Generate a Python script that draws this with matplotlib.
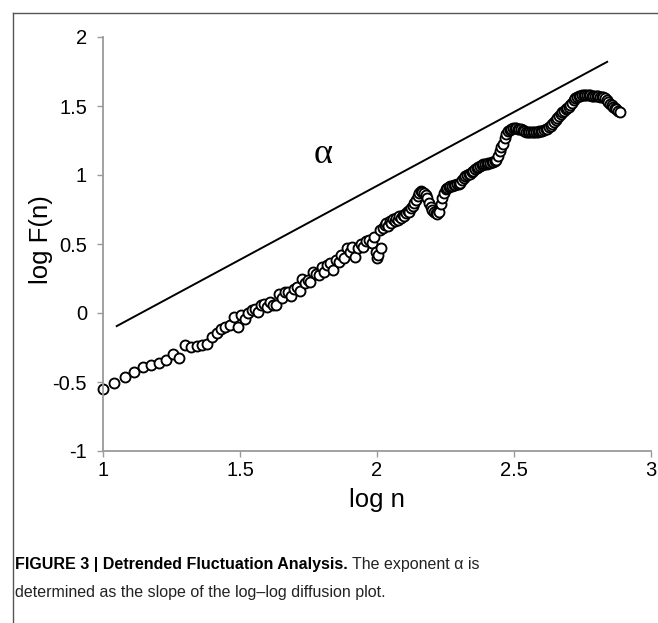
import matplotlib
matplotlib.use("Agg")
from matplotlib import pyplot as plt
from matplotlib.lines import Line2D

# values (log n, log F(n))
logn_low = [1.000, 1.041, 1.079, 1.114, 1.146, 1.176, 1.204, 1.230, 1.255, 1.279,
            1.301, 1.322, 1.342, 1.362, 1.380, 1.398, 1.415, 1.431, 1.447, 1.462,
            1.477, 1.491, 1.505]
logF_low = [-0.553, -0.504, -0.462, -0.430, -0.394, -0.377, -0.365, -0.340, -0.297, -0.328,
            -0.231, -0.248, -0.236, -0.231, -0.224, -0.175, -0.144, -0.119, -0.102, -0.090,
            -0.030, -0.102, -0.017]

logn_mid = [1.519, 1.531, 1.542, 1.553, 1.564, 1.575, 1.586, 1.597, 1.609, 1.620,
            1.631, 1.643, 1.654, 1.665, 1.676, 1.687, 1.698, 1.709, 1.720, 1.726,
            1.737, 1.748, 1.756, 1.766, 1.776, 1.787, 1.798, 1.808, 1.818, 1.829,
            1.840, 1.850, 1.860, 1.870, 1.880, 1.890, 1.900, 1.910, 1.920, 1.930,
            1.940, 1.950, 1.960, 1.970, 1.980, 1.990, 1.996, 2.000, 2.004]
logF_mid = [-0.040, 0.000, 0.020, 0.031, 0.010, 0.055, 0.068, 0.045, 0.080, 0.060,
            0.056, 0.140, 0.110, 0.150, 0.153, 0.120, 0.175, 0.190, 0.160, 0.250,
            0.215, 0.240, 0.226, 0.300, 0.280, 0.275, 0.330, 0.300, 0.348, 0.360,
            0.312, 0.385, 0.370, 0.420, 0.400, 0.469, 0.445, 0.480, 0.409, 0.469,
            0.500, 0.480, 0.520, 0.530, 0.510, 0.550, 0.445, 0.397, 0.420]

logn_high = [2.010, 2.016, 2.022, 2.028, 2.034, 2.040, 2.046, 2.052, 2.058, 2.064,
             2.070, 2.076, 2.082, 2.088, 2.094, 2.100, 2.106, 2.112, 2.118, 2.124,
             2.130, 2.136, 2.142, 2.148, 2.154, 2.160, 2.166, 2.172, 2.178, 2.184,
             2.190, 2.196, 2.202, 2.208, 2.214, 2.220, 2.226, 2.232, 2.238, 2.244,
             2.250, 2.256, 2.262, 2.268, 2.274, 2.280, 2.286, 2.292, 2.298, 2.304,
             2.310, 2.316, 2.322, 2.328, 2.334, 2.340, 2.346, 2.352, 2.358, 2.364,
             2.370, 2.376, 2.382, 2.388, 2.394, 2.400, 2.406, 2.412, 2.418, 2.424,
             2.430, 2.436, 2.442, 2.448, 2.454, 2.460, 2.466, 2.472, 2.478, 2.484,
             2.490, 2.496, 2.502, 2.508, 2.514, 2.520, 2.526, 2.532, 2.538, 2.544,
             2.550, 2.556, 2.562, 2.568, 2.574, 2.580, 2.586, 2.592, 2.598, 2.604,
             2.610, 2.616, 2.622, 2.628, 2.634, 2.640, 2.646, 2.652, 2.658, 2.664,
             2.670, 2.676, 2.682, 2.688, 2.694, 2.700, 2.706, 2.712, 2.718, 2.724,
             2.730, 2.736, 2.742, 2.748, 2.754, 2.760, 2.766, 2.772, 2.778, 2.784,
             2.790, 2.796, 2.802, 2.808, 2.814, 2.820, 2.826, 2.832, 2.838, 2.844,
             2.850, 2.856, 2.862, 2.868, 2.874, 2.880, 2.886]
logF_high = [0.600, 0.470, 0.615, 0.640, 0.650, 0.630, 0.664, 0.655, 0.680, 0.664,
             0.690, 0.675, 0.700, 0.688, 0.710, 0.700, 0.725, 0.740, 0.730, 0.760,
             0.775, 0.798, 0.820, 0.845, 0.870, 0.885, 0.880, 0.870, 0.855, 0.830,
             0.800, 0.770, 0.750, 0.735, 0.725, 0.715, 0.730, 0.790, 0.835, 0.870,
             0.895, 0.905, 0.915, 0.920, 0.918, 0.925, 0.930, 0.935, 0.932, 0.945,
             0.965, 0.980, 0.990, 1.000, 1.005, 1.010, 1.020, 1.030, 1.045, 1.050,
             1.060, 1.068, 1.075, 1.078, 1.080, 1.082, 1.085, 1.090, 1.092, 1.095,
             1.100, 1.110, 1.140, 1.175, 1.200, 1.225, 1.265, 1.300, 1.318, 1.328,
             1.334, 1.338, 1.340, 1.338, 1.336, 1.334, 1.330, 1.325, 1.320, 1.315,
             1.312, 1.310, 1.310, 1.312, 1.310, 1.312, 1.315, 1.318, 1.320, 1.322,
             1.325, 1.330, 1.336, 1.345, 1.355, 1.370, 1.385, 1.400, 1.410, 1.425,
             1.440, 1.455, 1.465, 1.475, 1.485, 1.495, 1.508, 1.525, 1.545, 1.560,
             1.568, 1.572, 1.575, 1.577, 1.578, 1.578, 1.577, 1.577, 1.577, 1.576,
             1.575, 1.573, 1.572, 1.570, 1.568, 1.566, 1.563, 1.556, 1.545, 1.530,
             1.516, 1.505, 1.495, 1.485, 1.475, 1.465, 1.455]

# reference slope line
slope_x = [1.05, 2.84]
slope_y = [-0.095, 1.82]

x_ticks = [1, 1.5, 2, 2.5, 3]
x_tick_labels = ["1", "1.5", "2", "2.5", "3"]
y_ticks = [-1, -0.5, 0, 0.5, 1, 1.5, 2]
y_tick_labels = ["-1", "-0.5", "0", "0.5", "1", "1.5", "2"]

plt.rcParams['font.family'] = ['Liberation Sans', 'DejaVu Sans']

fig = plt.figure(figsize=(6.58, 6.23), dpi=100)
ax = fig.add_axes([103 / 658, 1 - 451 / 623, 548 / 658, 414 / 623])

axis_grey = '#9a9a9a'

ax.plot(slope_x, slope_y, color='black', lw=1.4)

for xs, ys in [(logn_low, logF_low), (logn_mid, logF_mid), (logn_high, logF_high)]:
    ax.plot(xs, ys, ls='none', marker='o', ms=7.2, mfc='white', mec='black',
            mew=1.35, clip_on=False)

ax.text(1.803, 1.15, "α", family=['Liberation Serif', 'DejaVu Serif'], fontsize=26,
        ha='center', va='center')

ax.set_xlim(1, 3)
ax.set_ylim(-1, 2)
ax.set_xticks(x_ticks)
ax.set_xticklabels(x_tick_labels)
ax.set_yticks(y_ticks)
ax.set_yticklabels(y_tick_labels)

for side in ['top', 'right']:
    ax.spines[side].set_visible(False)
for side in ['left', 'bottom']:
    ax.spines[side].set_color(axis_grey)
    ax.spines[side].set_linewidth(1.3)
ax.tick_params(axis='both', direction='out', length=4.5, width=1.0, color=axis_grey,
               labelsize=14.5, labelcolor='black')
ax.tick_params(axis='y', pad=7)
ax.tick_params(axis='x', pad=3)

ax.set_xlabel("log n", fontsize=18.5)
ax.set_ylabel("log F(n)", fontsize=18.5)
ax.xaxis.set_label_coords(0.5, -0.09)
ax.yaxis.set_label_coords(-0.092, 0.51)

# page frame
fig.add_artist(Line2D([13 / 658, 13 / 658], [0, 1 - 13 / 623], color='#555555', lw=1.0))
fig.add_artist(Line2D([13 / 658, 1], [1 - 13 / 623, 1 - 13 / 623], color='#555555', lw=1.0))

# caption
cap_family = ['Liberation Sans', 'DejaVu Sans']
cap_size = 11.5
bold_part = fig.text(15 / 658, 1 - 569 / 623, "FIGURE 3 | Detrended Fluctuation Analysis.",
                     family=cap_family, fontweight='bold', fontsize=cap_size, va='baseline')
fig.canvas.draw()
bb = bold_part.get_window_extent()
fig.text(bb.x1 / 658 + 4 / 658, 1 - 569 / 623, "The exponent α is",
         family=cap_family, fontsize=cap_size, va='baseline', color='#222222')
fig.text(15 / 658, 1 - 597 / 623, "determined as the slope of the log–log diffusion plot.",
         family=cap_family, fontsize=cap_size, va='baseline', color='#222222')

fig.savefig("out.png", dpi=100)
